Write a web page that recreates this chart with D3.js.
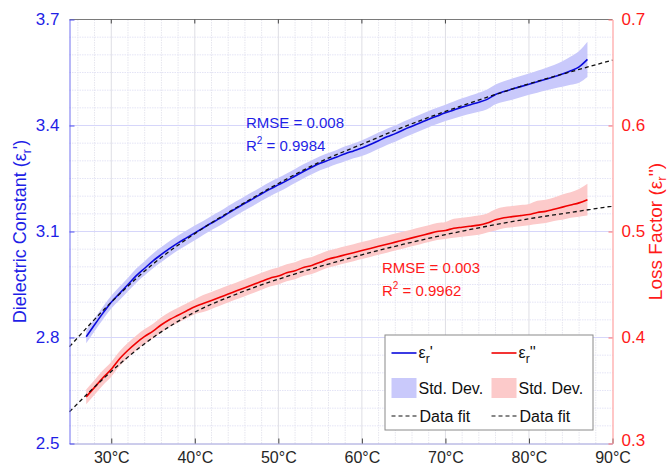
<!DOCTYPE html>
<html><head><meta charset="utf-8">
<script src="https://cdn.jsdelivr.net/npm/d3@7"></script>
<style>
body{margin:0;background:#fff}
svg{display:block}
text{font-family:"Liberation Sans",Arial,Helvetica,sans-serif}
</style>
</head><body>
<svg id="c" width="670" height="466"></svg>
<script>
// ---------------- data ----------------
const temps = [27,28,29,30,31,32,33,34,35,36,37,38,39,40,41,42,43,44,45,46,47,48,49,50,51,52,53,54,55,56,57,58,59,60,61,62,63,64,65,66,67,68,69,70,71,72,73,74,75,76,77,78,79,80,81,82,83,84,85,86,87];
const epsReal = [2.802,2.836,2.869,2.900,2.925,2.950,2.975,2.996,3.017,3.035,3.052,3.068,3.082,3.096,3.110,3.124,3.137,3.152,3.166,3.180,3.193,3.207,3.220,3.232,3.244,3.257,3.270,3.282,3.293,3.302,3.311,3.320,3.328,3.336,3.346,3.357,3.368,3.377,3.388,3.398,3.408,3.418,3.427,3.436,3.444,3.452,3.459,3.466,3.474,3.488,3.496,3.503,3.510,3.517,3.524,3.531,3.538,3.546,3.555,3.566,3.587];
const epsRealSd = [0.018,0.018,0.018,0.018,0.019,0.019,0.020,0.020,0.021,0.021,0.021,0.021,0.021,0.021,0.020,0.020,0.020,0.020,0.020,0.020,0.020,0.020,0.020,0.020,0.020,0.020,0.020,0.020,0.020,0.020,0.020,0.021,0.021,0.022,0.023,0.023,0.023,0.023,0.023,0.023,0.023,0.023,0.023,0.023,0.024,0.025,0.026,0.027,0.028,0.028,0.029,0.030,0.030,0.030,0.031,0.032,0.033,0.036,0.040,0.045,0.050];
const epsImag = [0.344,0.353,0.362,0.370,0.380,0.388,0.395,0.401,0.406,0.412,0.417,0.421,0.425,0.429,0.432,0.435,0.438,0.441,0.444,0.447,0.450,0.453,0.456,0.458,0.461,0.463,0.466,0.468,0.471,0.474,0.476,0.478,0.480,0.482,0.484,0.486,0.488,0.490,0.492,0.494,0.496,0.498,0.500,0.501,0.503,0.504,0.505,0.506,0.508,0.511,0.513,0.514,0.515,0.516,0.518,0.519,0.521,0.523,0.525,0.527,0.530];
const epsImagSd = [0.007,0.007,0.007,0.007,0.007,0.007,0.007,0.007,0.007,0.007,0.007,0.007,0.007,0.007,0.008,0.008,0.008,0.008,0.008,0.008,0.008,0.008,0.008,0.008,0.008,0.008,0.008,0.008,0.008,0.008,0.008,0.008,0.008,0.008,0.008,0.008,0.008,0.008,0.008,0.008,0.008,0.008,0.008,0.008,0.009,0.009,0.009,0.009,0.009,0.010,0.010,0.010,0.010,0.010,0.011,0.011,0.011,0.012,0.012,0.013,0.015];
const fitTemps = [25,30,35,40,45,50,55,60,65,70,75,80,85,90];
const fitReal = [2.774,2.900,3.008,3.094,3.168,3.236,3.297,3.347,3.396,3.440,3.480,3.518,3.552,3.585];
const fitImag = [0.330,0.368,0.400,0.424,0.441,0.455,0.467,0.478,0.488,0.497,0.505,0.512,0.518,0.524];
const xTicks = [30,40,50,60,70,80,90];
const xTickLabels = ["30°C","40°C","50°C","60°C","70°C","80°C","90°C"];
const leftTicks = [2.5,2.8,3.1,3.4,3.7];
const rightTicks = [0.3,0.4,0.5,0.6,0.7];
const xMinor = [26,28,32,34,36,38,42,44,46,48,52,54,56,58,62,64,66,68,72,74,76,78,82,84,86,88];
const yMinor = [2.55,2.6,2.65,2.7,2.75,2.85,2.9,2.95,3.0,3.05,3.15,3.2,3.25,3.3,3.35,3.45,3.5,3.55,3.6,3.65];
const annotReal = ["RMSE = 0.008","0.9984"];
const annotImag = ["RMSE = 0.003","0.9962"];

// ---------------- layout ----------------
const L = 69.5, R = 612.5, T = 19.5, B = 443.5;
const BLUE = "#0a0adc", RED = "#f00000";
const BLUE_T = "#1f1fe6", RED_T = "#ff1a1a";
const svg = d3.select("#c");

const x = d3.scaleLinear().domain([25,90]).range([L,R]);
const yL = d3.scaleLinear().domain([2.5,3.7]).range([B,T]);
const yR = d3.scaleLinear().domain([0.3,0.7]).range([B,T]);

// grid
const g = svg.append("g");
g.selectAll(".vmin").data(xMinor).join("line")
  .attr("x1",d=>x(d)).attr("x2",d=>x(d)).attr("y1",T).attr("y2",B)
  .attr("stroke","#e6e6ee").attr("stroke-width",1).attr("stroke-dasharray","1.5,1");
g.selectAll(".hmin").data(yMinor).join("line")
  .attr("x1",L).attr("x2",R).attr("y1",d=>yL(d)).attr("y2",d=>yL(d))
  .attr("stroke","#e4e4f6").attr("stroke-width",1).attr("stroke-dasharray","1.5,1");
g.selectAll(".vmaj").data(xTicks.slice(0,-1)).join("line")
  .attr("x1",d=>x(d)).attr("x2",d=>x(d)).attr("y1",T).attr("y2",B)
  .attr("stroke","#dedee4").attr("stroke-width",1);
g.selectAll(".hmaj").data(leftTicks.slice(1,-1)).join("line")
  .attr("x1",L).attr("x2",R).attr("y1",d=>yL(d)).attr("y2",d=>yL(d))
  .attr("stroke","#d6d6fa").attr("stroke-width",1);

// bands
const realData = temps.map((t,i)=>({t,v:epsReal[i],s:epsRealSd[i]}));
const imagData = temps.map((t,i)=>({t,v:epsImag[i],s:epsImagSd[i]}));
svg.append("path").datum(realData)
  .attr("d", d3.area().x(d=>x(d.t)).y0(d=>yL(d.v-d.s)).y1(d=>yL(d.v+d.s)).curve(d3.curveMonotoneX))
  .attr("fill","#c9c9fb");
svg.append("path").datum(imagData)
  .attr("d", d3.area().x(d=>x(d.t)).y0(d=>yR(d.v-d.s)).y1(d=>yR(d.v+d.s)).curve(d3.curveMonotoneX))
  .attr("fill","#fccaca");

// lines
svg.append("path").datum(realData)
  .attr("d", d3.line().x(d=>x(d.t)).y(d=>yL(d.v)).curve(d3.curveMonotoneX))
  .attr("fill","none").attr("stroke",BLUE).attr("stroke-width",1.6);
svg.append("path").datum(imagData)
  .attr("d", d3.line().x(d=>x(d.t)).y(d=>yR(d.v)).curve(d3.curveMonotoneX))
  .attr("fill","none").attr("stroke",RED).attr("stroke-width",1.6);

// fits
const fr = fitTemps.map((t,i)=>({t,v:fitReal[i]}));
const fi = fitTemps.map((t,i)=>({t,v:fitImag[i]}));
svg.append("path").datum(fr)
  .attr("d", d3.line().x(d=>x(d.t)).y(d=>yL(d.v)).curve(d3.curveMonotoneX))
  .attr("fill","none").attr("stroke","#111").attr("stroke-width",1.3).attr("stroke-dasharray","4,3");
svg.append("path").datum(fi)
  .attr("d", d3.line().x(d=>x(d.t)).y(d=>yR(d.v)).curve(d3.curveMonotoneX))
  .attr("fill","none").attr("stroke","#111").attr("stroke-width",1.3).attr("stroke-dasharray","4,3");

// frame: top
svg.append("line").attr("x1",L).attr("x2",R).attr("y1",T).attr("y2",T).attr("stroke","#7a7a7a").attr("stroke-width",1);
svg.selectAll(".tt").data(xTicks.slice(0,-1)).join("line")
  .attr("x1",d=>x(d)).attr("x2",d=>x(d)).attr("y1",T).attr("y2",T+4).attr("stroke","#444");

// bottom axis
const xAxis = d3.axisBottom(x).tickValues(xTicks).tickFormat((d,i)=>xTickLabels[i]).tickSizeInner(-5).tickSizeOuter(0).tickPadding(8);
const gx = svg.append("g").attr("transform",`translate(0,${B})`).call(xAxis);
gx.select(".domain").attr("stroke","#9a9ad8");
gx.selectAll(".tick line").attr("stroke","#444");
gx.selectAll(".tick text").attr("fill","#262626").attr("font-size","16px").attr("font-family","Liberation Sans, Arial, sans-serif");

// left axis
const yAxisL = d3.axisLeft(yL).tickValues(leftTicks).tickFormat(d3.format(".1f")).tickSizeInner(-5).tickSizeOuter(0).tickPadding(10);
const gl = svg.append("g").attr("transform",`translate(${L},0)`).call(yAxisL);
gl.select(".domain").attr("stroke","#7070f0");
gl.selectAll(".tick line").attr("stroke","#5050f0");
gl.selectAll(".tick text").attr("fill",BLUE_T).attr("font-size","17px").attr("font-family","Liberation Sans, Arial, sans-serif");

// right axis
const yAxisR = d3.axisRight(yR).tickValues(rightTicks).tickFormat(d3.format(".1f")).tickSizeInner(-4).tickSizeOuter(0).tickPadding(9);
const gr = svg.append("g").attr("transform",`translate(${R},0)`).call(yAxisR);
gr.select(".domain").attr("stroke","#ff8f8f");
gr.selectAll(".tick line").attr("stroke","#ff7070");
gr.selectAll(".tick text").attr("fill",RED_T).attr("font-size","17px").attr("font-family","Liberation Sans, Arial, sans-serif");
// lowest right label sits just above the corner so it does not collide with 90°C
gr.selectAll(".tick text").filter(d=>d===0.3).attr("dy","0.1em");

// axis labels
const lab1 = svg.append("text").attr("transform",`translate(26,${(T+B)/2}) rotate(-90)`)
  .attr("text-anchor","middle").attr("font-size","18px").attr("fill",BLUE_T);
lab1.append("tspan").text("Dielectric Constant (ε");
lab1.append("tspan").attr("font-size","12px").attr("dy",5).text("r");
lab1.append("tspan").attr("dy",-5).text("')");
const lab2 = svg.append("text").attr("transform",`translate(662,${(T+B)/2}) rotate(-90)`)
  .attr("text-anchor","middle").attr("font-size","19px").attr("fill",RED_T);
lab2.append("tspan").text("Loss Factor (ε");
lab2.append("tspan").attr("font-size","13px").attr("dy",4).text("r");
lab2.append("tspan").attr("dy",-4).text("'')");

// annotations
function annot(xp, yp, lines, col){
  svg.append("text").attr("x",xp).attr("y",yp).attr("font-size","15px").attr("fill",col).text(lines[0]);
  const t = svg.append("text").attr("x",xp).attr("y",yp+23).attr("font-size","15px").attr("fill",col);
  t.append("tspan").text("R");
  t.append("tspan").attr("font-size","10px").attr("dy",-7).text("2");
  t.append("tspan").attr("dy",7).text(" = " + lines[1]);
}
annot(246, 128, annotReal, BLUE_T);
annot(382, 273, annotImag, RED_T);

// legend
const lg = svg.append("g");
lg.append("rect").attr("x",385).attr("y",335).attr("width",208).attr("height",95)
  .attr("fill","#fff").attr("stroke","#8a8a8a").attr("stroke-width",1);
const cols = [{x0:391.5, line:BLUE, band:"#c9c9fb", sym:"'"},{x0:491.5, line:RED, band:"#fccaca", sym:"''"}];
cols.forEach(c=>{
  lg.append("line").attr("x1",c.x0).attr("x2",c.x0+25).attr("y1",353).attr("y2",353).attr("stroke",c.line).attr("stroke-width",1.6);
  const t = lg.append("text").attr("x",c.x0+27).attr("y",358).attr("font-size","16px").attr("fill","#111");
  t.append("tspan").text("ε");
  t.append("tspan").attr("font-size","12px").attr("dy",5).text("r");
  t.append("tspan").attr("dy",-5).text(c.sym);
  lg.append("rect").attr("x",c.x0).attr("y",378).attr("width",25).attr("height",20).attr("fill",c.band);
  lg.append("text").attr("x",c.x0+27).attr("y",394).attr("font-size","16px").attr("fill","#111").text("Std. Dev.");
  lg.append("line").attr("x1",c.x0).attr("x2",c.x0+25).attr("y1",416).attr("y2",416).attr("stroke","#111").attr("stroke-width",1.2).attr("stroke-dasharray","4,3");
  lg.append("text").attr("x",c.x0+28).attr("y",422).attr("font-size","16px").attr("fill","#111").text("Data fit");
});
</script>
</body></html>
